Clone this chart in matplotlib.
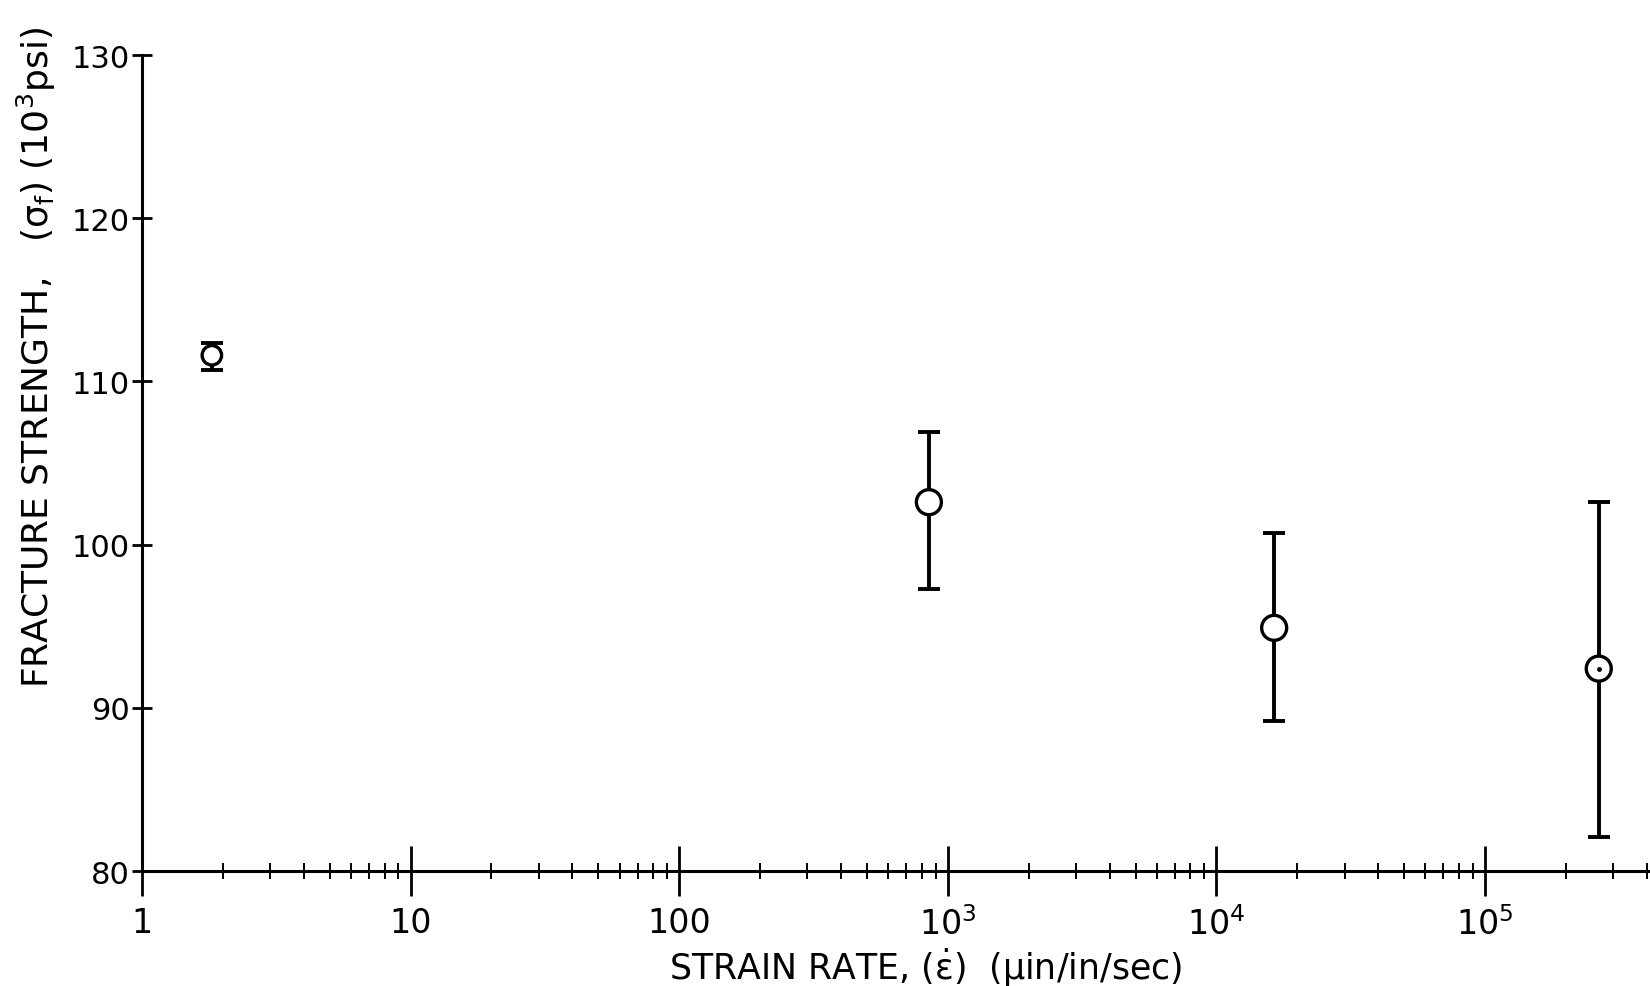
import matplotlib
matplotlib.use("Agg")
import matplotlib.pyplot as plt
import numpy as np
from matplotlib.ticker import LogLocator, NullFormatter

# strain rate (micro-in/in/sec) and fracture strength (10^3 psi)
strain_rate = [1.82, 850, 1.64e4, 2.65e5]
strength = [111.6, 102.6, 94.9, 92.4]
err_low = [110.7, 97.3, 89.2, 82.1]
err_high = [112.35, 106.9, 100.7, 102.6]
marker_pt = [14, 18, 18, 18]
dotted = [False, False, False, True]

x_ticks = [1, 10, 100, 1e3, 1e4, 1e5]
x_tick_labels = ["1", "10", "100", "$10^3$", "$10^4$", "$10^5$"]
y_ticks = [80, 90, 100, 110, 120, 130]
y_tick_labels = ["80", "90", "100", "110", "120", "130"]

plt.rcParams["font.family"] = ["DejaVu Sans"]
plt.rcParams["mathtext.default"] = "regular"

fig = plt.figure(figsize=(16.5, 9.87), dpi=100)
ax = fig.add_axes([142 / 1650, 1 - 872 / 987, (1650 - 142) / 1650, (872 - 56) / 987])

ax.set_xscale("log")
ax.set_xlim(1, 10 ** 5.614)
ax.set_ylim(80, 130)

s = np.array(strength)
yerr = [s - np.array(err_low), np.array(err_high) - s]
ax.errorbar(strain_rate, strength, yerr=yerr, fmt="none", ecolor="black",
            elinewidth=2.8, capsize=8, capthick=2.8, zorder=3, clip_on=False)
ax.scatter(strain_rate, strength, s=np.array(marker_pt) ** 2, facecolor="white",
           edgecolor="black", linewidths=2.4, zorder=4, clip_on=False)
dx = [x for x, d in zip(strain_rate, dotted) if d]
dy = [y for y, d in zip(strength, dotted) if d]
ax.plot(dx, dy, "o", color="black", ms=2.5, zorder=5)

for side in ["top", "right"]:
    ax.spines[side].set_visible(False)
for side in ["left", "bottom"]:
    ax.spines[side].set_linewidth(2.2)

ax.set_yticks(y_ticks)
ax.set_yticklabels(y_tick_labels)
ax.tick_params(axis="y", direction="inout", length=14, width=2, labelsize=22, pad=2)

ax.set_xticks(x_ticks)
ax.set_xticklabels(x_tick_labels)
ax.xaxis.set_minor_locator(LogLocator(base=10, subs=np.arange(2, 10)))
ax.xaxis.set_minor_formatter(NullFormatter())
ax.tick_params(axis="x", which="major", direction="inout", length=36, width=2,
               labelsize=24, pad=7)
ax.tick_params(axis="x", which="minor", direction="inout", length=11, width=1.4)

fig.text(926 / 1650, 1 - 968 / 987, "STRAIN RATE, ($\\dot{\\epsilon}$)  ($\\mu$in/in/sec)",
         ha="center", va="center", fontsize=25)
fig.text(36 / 1650, 1 - 357 / 987,
         "FRACTURE STRENGTH,   ($\\sigma_f$) ($10^3$psi)",
         ha="center", va="center", rotation=90, fontsize=26)

fig.savefig("out.png", dpi=100)
